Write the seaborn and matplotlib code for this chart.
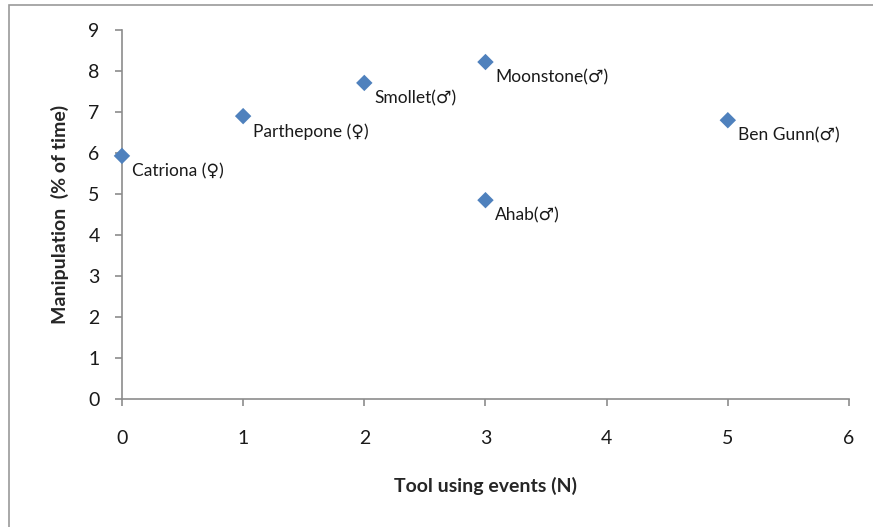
import numpy as np
import pandas as pd
import matplotlib
matplotlib.use("Agg")
import matplotlib.pyplot as plt
import seaborn as sns
from matplotlib.patches import Rectangle

# values
names = ["Catriona (\u2640)", "Parthepone (\u2640)", "Smollet(\u2642)",
         "Moonstone(\u2642)", "Ahab(\u2642)", "Ben Gunn(\u2642)"]
tool_events = [0, 1, 2, 3, 3, 5]
manipulation = [5.93, 6.90, 7.71, 8.22, 4.85, 6.80]

x_ticks = [0, 1, 2, 3, 4, 5, 6]
y_ticks = [0, 1, 2, 3, 4, 5, 6, 7, 8, 9]

def main():
    sns.set_style("white")
    plt.rcParams["font.family"] = ["Lato", "DejaVu Sans"]

    df = pd.DataFrame({"name": names, "events": tool_events, "manip": manipulation})

    fig = plt.figure(figsize=(8.73, 5.27), dpi=100)
    ax = fig.add_axes([0.1397, 0.2429, 0.9725 - 0.1397, 0.943 - 0.2429])

    sns.scatterplot(data=df, x="events", y="manip", marker="D", s=70,
                    color="#4F81BD", edgecolor="none", ax=ax, zorder=3, clip_on=False)

    for _, row in df.iterrows():
        ax.annotate(row["name"], (row["events"], row["manip"]),
                    xytext=(7, -11), textcoords="offset points",
                    ha="left", va="center", fontsize=12.5, color="#1a1a1a",
                    family=["Lato", "DejaVu Sans"])

    ax.set_xlim(0, 6)
    ax.set_ylim(0, 9)
    ax.set_xticks(x_ticks)
    ax.set_yticks(y_ticks)
    ax.tick_params(axis="both", labelsize=14, colors="#1a1a1a")
    ax.tick_params(axis="x", direction="out", length=5, width=1.2, color="#8c8c8c", pad=17)
    ax.tick_params(axis="y", direction="out", length=5, width=1.2, color="#8c8c8c", pad=11)
    ax.tick_params(bottom=True, left=True)

    sns.despine(ax=ax)
    for side in ["left", "bottom"]:
        ax.spines[side].set_color("#8c8c8c")
        ax.spines[side].set_linewidth(1.2)

    ax.set_xlabel("Tool using events (N)", fontsize=14, fontweight="bold", labelpad=22)
    ax.set_ylabel("Manipulation  (% of time)", fontsize=14, fontweight="bold", labelpad=14)

    # chart frame like the Excel chart area
    fig.patches.append(Rectangle((9 / 873, -0.05), 1.1, 1.05 - 5 / 527,
                                 transform=fig.transFigure, fill=False,
                                 edgecolor="#9a9a9a", linewidth=1.2))

    fig.savefig("out.png", dpi=100)
    plt.close(fig)

if __name__ == "__main__":
    main()
